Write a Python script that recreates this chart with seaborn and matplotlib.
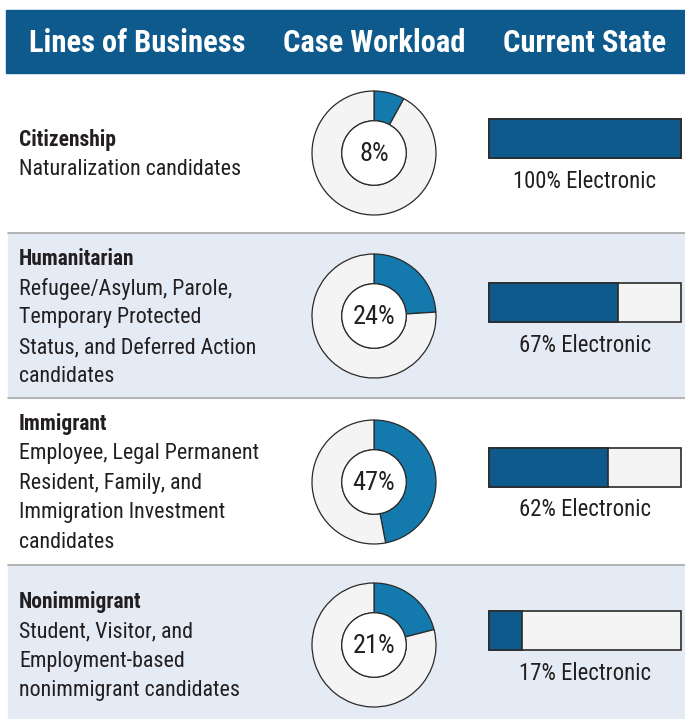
import matplotlib
matplotlib.use("Agg")
import matplotlib.pyplot as plt
import seaborn as sns
from matplotlib.patches import Rectangle

# data
business = ["Citizenship", "Humanitarian", "Immigrant", "Nonimmigrant"]
descriptions = [
    ["Naturalization candidates"],
    ["Refugee/Asylum, Parole,", "Temporary Protected", "Status, and Deferred Action", "candidates"],
    ["Employee, Legal Permanent", "Resident, Family, and", "Immigration Investment", "candidates"],
    ["Student, Visitor, and", "Employment-based", "nonimmigrant candidates"],
]
workload = [8, 24, 47, 21]
electronic = [100, 67, 62, 17]
headers = ["Lines of Business", "Case Workload", "Current State"]

# layout in pixels
W, H = 685, 719
row_top = [73, 233, 398, 565]
row_bot = [233, 398, 565, 719]
title_y = [140, 259, 424, 602]
donut_y = [153, 316, 482, 645]
bar_top = [119, 283, 448, 611]

DARK = "#0F5A8C"
MID = "#1479AC"
BAND = "#E4EBF4"
EMPTY = "#F4F4F4"
INK = "#231F20"

sns.set_theme(style="white")
plt.rcParams["font.family"] = ["Roboto Condensed", "Archivo Narrow", "DejaVu Sans"]

fig = plt.figure(figsize=(W / 100, H / 100), dpi=100)
bg = fig.add_axes([0, 0, 1, 1])
bg.set_xlim(0, W)
bg.set_ylim(H, 0)
bg.axis("off")

# header
bg.add_patch(Rectangle((6, 10), W - 6, 63, color=DARK))
for x, h in zip([137, 374, 585], headers):
    bg.text(x, 43, h, color="white", fontsize=22, fontweight="bold",
            ha="center", va="center")

for i in range(4):
    if i % 2 == 1:
        bg.add_patch(Rectangle((8, row_top[i]), W - 8, row_bot[i] - row_top[i], color=BAND))
    if i > 0:
        bg.plot([8, W], [row_top[i], row_top[i]], color="#A8A8A8", lw=1.2)
    bg.text(19, title_y[i], business[i], fontsize=15.5, fontweight="bold",
            color=INK, va="center")
    for j, line in enumerate(descriptions[i]):
        bg.text(19, title_y[i] + 29.5 * (j + 1), line, fontsize=15.8,
                color=INK, va="center")

    # donut
    r = 62 * 1.03
    cx, cy = 374, donut_y[i]
    dax = fig.add_axes([(cx - r) / W, 1 - (cy + r) / H, 2 * r / W, 2 * r / H])
    dax.pie([workload[i], 100 - workload[i]], colors=[MID, EMPTY], startangle=90,
            counterclock=False, radius=1,
            wedgeprops=dict(width=0.48, edgecolor="#2A2A2A", linewidth=0.9))
    dax.pie([1], colors=["white"], radius=0.52,
            wedgeprops=dict(edgecolor="#2A2A2A", linewidth=0.9))
    dax.text(0, -0.02, f"{workload[i]}%", ha="center", va="center", fontsize=19,
             color=INK)
    dax.set_xlim(-1.03, 1.03)
    dax.set_ylim(-1.03, 1.03)
    dax.set_aspect("equal")

    # bar
    bx0, bx1 = 489, 681
    bh = 39
    bax = fig.add_axes([bx0 / W, 1 - (bar_top[i] + bh) / H, (bx1 - bx0) / W, bh / H])
    sns.barplot(x=[100], y=[0], orient="h", color=EMPTY, width=1, ax=bax,
                edgecolor="#2A2A2A", linewidth=1.2, saturation=1)
    sns.barplot(x=[electronic[i]], y=[0], orient="h", color=DARK, width=1, ax=bax,
                edgecolor="#2A2A2A", linewidth=1.2, saturation=1)
    bax.set_xlim(0, 100)
    bax.set_ylim(0.5, -0.5)
    bax.axis("off")
    for p in bax.patches:
        p.set_clip_on(False)
    bg.text((bx0 + bx1) / 2, bar_top[i] + 62, f"{electronic[i]}% Electronic",
            fontsize=16.4, color=INK, ha="center", va="center")

fig.savefig("out.png", dpi=100)
